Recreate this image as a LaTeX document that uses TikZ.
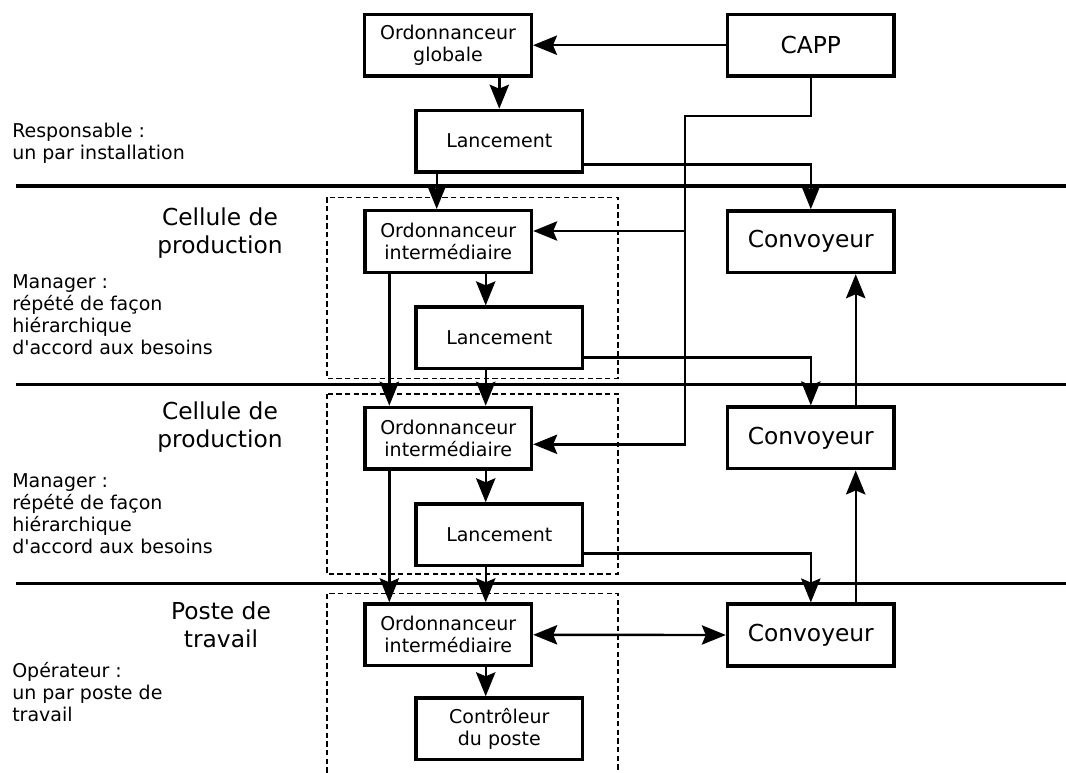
\documentclass[tikz,border=0pt]{standalone}
\usepackage{fontspec}
\setmainfont{DejaVu Sans}
\usetikzlibrary{arrows.meta}
\tikzset{box/.style={draw=black, line width=2.6pt, minimum width=124.9pt, minimum height=46.2pt, inner sep=0pt, align=center, font=\fontsize{14.25}{16.5}\selectfont},
	bigbox/.style={box, font=\fontsize{17.5}{21}\selectfont},
	note/.style={anchor=west, align=left, inner sep=0pt, font=\fontsize{14.25}{16.5}\selectfont},
	level/.style={align=center, inner sep=0pt, font=\fontsize{17.5}{21}\selectfont},
	sep/.style={line width=2.8pt},
	group/.style={line width=1.2pt, dash pattern=on 4pt off 2.5pt},
	tip/.style={line width=1.8pt, -{Stealth[length=18pt, width=14.5pt, inset=3pt]}},
	conn/.style={tip},
	both/.style={tip, {Stealth[length=18pt, width=14.5pt, inset=3pt]}-{Stealth[length=18pt, width=14.5pt, inset=3pt]}}}

\begin{document}
\begin{tikzpicture}[x=0.75pt, y=-0.75pt, line join=miter]
		\useasboundingbox (0,0) rectangle (1066,772);

		\draw[sep] (16,186) -- (1066,186);
		\draw[sep] (16,384.5) -- (1066,384.5);
		\draw[sep] (16,583.5) -- (1066,583.5);

		\draw[group] (326.8,197.3) rectangle (617.9,378.3);
		\draw[group] (326.8,394) rectangle (617.9,574);
		\draw[group] (326.8,790) |- (617.9,593.3) -- (617.9,790);

		\node[note] (resp) at (12,143) {Responsable :\\un par installation};
		\node[level] (cell1) at (220,233) {Cellule de\\production};
		\node[note] (man1) at (12,315) {Manager :\\répété de façon\\hiérarchique\\d\textquotesingle accord aux besoins};
		\node[level] (cell2) at (220,427) {Cellule de\\production};
		\node[note] (man2) at (12,514) {Manager :\\répété de façon\\hiérarchique\\d\textquotesingle accord aux besoins};
		\node[level] (poste) at (221,625) {Poste de\\travail};
		\node[note] (oper) at (12,692) {Opérateur :\\un par poste de\\travail};

		\node[box] (ordg) at (448,45.2) {Ordonnanceur\\globale};
		\node[bigbox] (capp) at (810.8,45.2) {CAPP};
		\node[box] (lanc0) at (499.3,141.2) {Lancement};

		\node[box] (ordi1) at (448.2,241.5) {Ordonnanceur\\intermédiaire};
		\node[box] (lanc1) at (499.3,337.9) {Lancement};
		\node[bigbox] (conv1) at (810.8,241.7) {Convoyeur};

		\node[box] (ordi2) at (448.2,438.2) {Ordonnanceur\\intermédiaire};
		\node[box] (lanc2) at (499.3,534.8) {Lancement};
		\node[bigbox] (conv2) at (810.8,437.9) {Convoyeur};

		\node[box] (ordi3) at (448.2,634.8) {Ordonnanceur\\intermédiaire};
		\node[box] (ctrl) at (499.3,728.8) {Contrôleur\\du poste};
		\node[bigbox] (conv3) at (810.8,635) {Convoyeur};

		\coordinate (xa) at (389.3,0);
		\coordinate (xb) at (436.7,0);
		\coordinate (xc) at (485.7,0);
		\coordinate (xe) at (855.7,0);
		\coordinate (cj) at (685,115.7);
		\coordinate (k1) at (685,231);
		\coordinate (k2) at (685,444.3);
		\coordinate (r0) at (810.8,164.3);
		\coordinate (r1) at (810.8,357.3);
		\coordinate (r2) at (810.8,553.3);

		\draw[conn] (capp.west) -- (ordg.east);
		\draw[conn] (ordg.south -| lanc0) -- (lanc0.north);
		\draw[conn] (capp.south) |- (cj) -- (k2) -- (ordi2.east |- k2);
		\draw[conn] (k1) -- (ordi1.east |- k1);

		\draw[conn] (lanc0.south -| xb) -- (ordi1.north -| xb);
		\draw[conn] (lanc0.east |- r0) -- (r0) -- (conv1.north);
		\draw[conn] (ordi1.south -| xc) -- (lanc1.north -| xc);
		\draw[conn] (ordi1.south -| xa) -- (ordi2.north -| xa);
		\draw[conn] (lanc1.south -| xc) -- (ordi2.north -| xc);
		\draw[conn] (lanc1.east |- r1) -- (r1) -- (conv2.north);
		\draw[conn] (conv2.north -| xe) -- (conv1.south -| xe);

		\draw[conn] (ordi2.south -| xc) -- (lanc2.north -| xc);
		\draw[conn] (ordi2.south -| xa) -- (ordi3.north -| xa);
		\draw[conn] (lanc2.south -| xc) -- (ordi3.north -| xc);
		\draw[conn] (lanc2.east |- r2) -- (r2) -- (conv3.north);
		\draw[conn] (conv3.north -| xe) -- (conv2.south -| xe);

		\draw[both] (ordi3.east) -- (conv3.west);
		\draw[conn] (ordi3.south -| xc) -- (ctrl.north -| xc);
	\end{tikzpicture}
\end{document}
